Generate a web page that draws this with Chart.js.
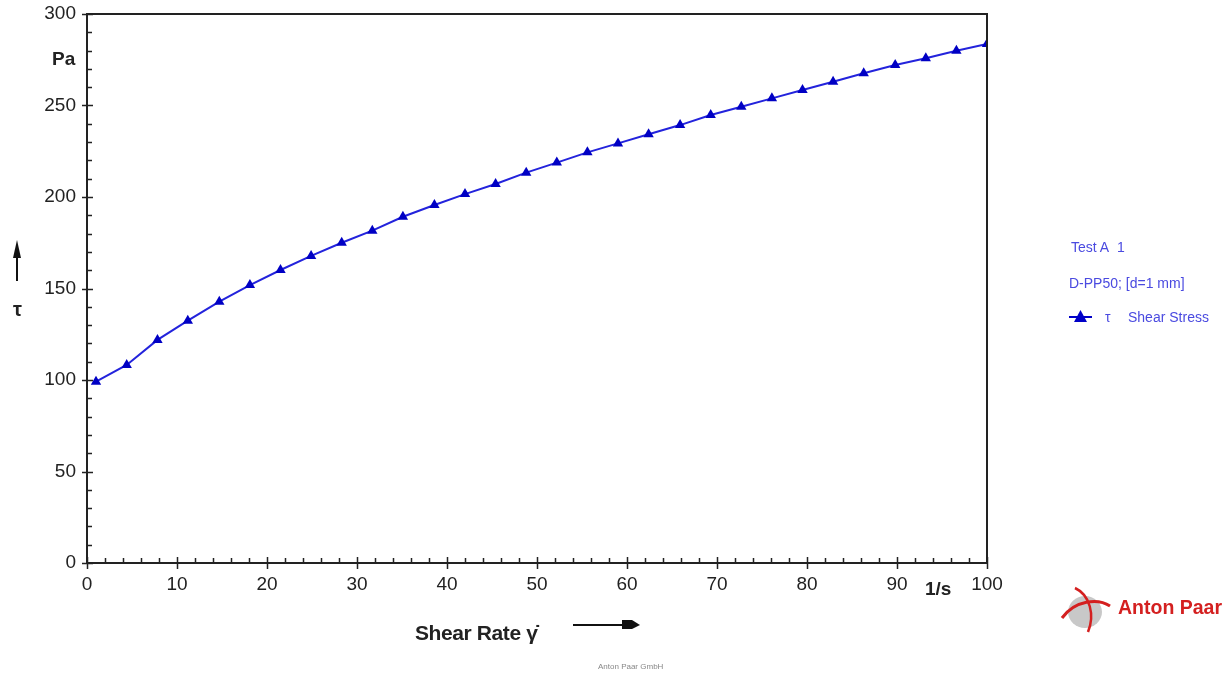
<!DOCTYPE html>
<html><head><meta charset="utf-8">
<script src="https://cdn.jsdelivr.net/npm/chart.js@4/dist/chart.umd.min.js"></script>
<style>
html,body{margin:0;padding:0;background:#fff;}
#wrap{position:relative;width:1229px;height:674px;overflow:hidden;font-family:"Liberation Sans",Arial,sans-serif;}
canvas{position:absolute;left:0;top:0;}
.t{position:absolute;white-space:nowrap;}
</style></head>
<body><div id="wrap">
<canvas id="c" width="1229" height="674"></canvas>
<div class="t" style="left:52px;top:48px;font-size:19px;font-weight:bold;color:#222;">Pa</div>
<div class="t" style="left:925px;top:578px;font-size:19px;font-weight:bold;color:#222;">1/s</div>
<div class="t" style="left:13px;top:298px;font-size:20px;font-weight:bold;color:#222;">τ</div>
<div class="t" style="left:415px;top:621px;font-size:21px;font-weight:bold;color:#222;letter-spacing:-0.4px;">Shear Rate γ̇</div>
<div class="t" style="left:598px;top:662px;font-size:8px;color:#888;">Anton Paar GmbH</div>
<div class="t" style="left:1071px;top:239px;font-size:14px;color:#4a4ae0;">Test A&nbsp; 1</div>
<div class="t" style="left:1069px;top:275px;font-size:14px;color:#4a4ae0;">D-PP50; [d=1 mm]</div>
<div class="t" style="left:1105px;top:309px;font-size:14px;color:#4a4ae0;">τ</div>
<div class="t" style="left:1128px;top:309px;font-size:14px;color:#4a4ae0;">Shear Stress</div>
<div class="t" style="left:1118px;top:596px;font-size:19.5px;font-weight:bold;color:#d42020;">Anton Paar</div>
<svg class="t" style="left:0;top:0;" width="1229" height="674">
  <line x1="17" y1="281" x2="17" y2="252" stroke="#111" stroke-width="2"/>
  <path d="M13,258 L21,258 L19,249 L17,240 L15,249 Z" fill="#111"/>
  <line x1="573" y1="625" x2="625" y2="625" stroke="#111" stroke-width="2"/>
  <path d="M622,620 L632,620 L640,625 L632,629 L622,629 Z" fill="#111"/>
  <line x1="1069" y1="317" x2="1092" y2="317" stroke="#0000c8" stroke-width="2"/>
  <path d="M1074,322 L1087,322 L1080.5,310 Z" fill="#0000c8"/>
  <ellipse cx="1085" cy="612" rx="17" ry="16" fill="#c8c8c8"/>
  <path d="M1062,618 C1075,600 1098,598 1110,606" fill="none" stroke="#d42020" stroke-width="3"/>
  <path d="M1075,588 C1090,595 1095,615 1088,632" fill="none" stroke="#d42020" stroke-width="2.5"/>
</svg>
</div>
<script>
const shearRate = [1, 4.41, 7.83, 11.2, 14.7, 18.1, 21.5, 24.9, 28.3, 31.7, 35.1, 38.6, 42.0, 45.4, 48.8, 52.2, 55.6, 59.0, 62.4, 65.9, 69.3, 72.7, 76.1, 79.5, 82.9, 86.3, 89.8, 93.2, 96.6, 100];
const shearStress = [99.1, 108.2, 121.9, 132.4, 142.8, 151.9, 160.1, 167.8, 175.0, 181.6, 189.2, 195.6, 201.6, 207.1, 213.3, 218.8, 224.4, 229.3, 234.3, 239.3, 244.8, 249.3, 253.9, 258.5, 263.0, 267.6, 272.1, 275.8, 279.9, 283.6];
const xTicks = [0,10,20,30,40,50,60,70,80,90,100];
const yTicks = [0,50,100,150,200,250,300];

const framePlugin = {
  id:'frame',
  afterDraw(chart){
    const ctx = chart.ctx, a = chart.chartArea, xs = chart.scales.x, ys = chart.scales.y;
    ctx.save();
    ctx.strokeStyle = '#222'; ctx.lineWidth = 2;
    ctx.strokeRect(a.left, a.top, a.right - a.left, a.bottom - a.top);
    ctx.lineWidth = 1.5;
    ctx.beginPath();
    for (let v = 0; v <= 300; v += 10) {
      const y = Math.round(ys.getPixelForValue(v)) + 0.5;
      if (v % 50 === 0) { ctx.moveTo(a.left - 5, y); ctx.lineTo(a.left + 6, y); }
      else { ctx.moveTo(a.left, y); ctx.lineTo(a.left + 5, y); }
    }
    for (let v = 0; v <= 100; v += 2) {
      const x = Math.round(xs.getPixelForValue(v)) + 0.5;
      if (v % 10 === 0) { ctx.moveTo(x, a.bottom + 6); ctx.lineTo(x, a.bottom - 6); }
      else { ctx.moveTo(x, a.bottom); ctx.lineTo(x, a.bottom - 5); }
    }
    ctx.stroke();
    ctx.restore();
  }
};

new Chart(document.getElementById('c'), {
  type: 'scatter',
  data: { datasets: [{
    label: 'τ Shear Stress',
    data: shearRate.map((x,i)=>({x, y: shearStress[i]})),
    showLine: true,
    borderColor: '#2323dc',
    borderWidth: 2,
    pointStyle: 'triangle',
    pointRadius: 6,
    pointBackgroundColor: '#0000c4',
    pointBorderColor: '#0000c4',
    pointBorderWidth: 0
  }]},
  options: {
    responsive: false,
    animation: false,
    layout: { padding: { left: 0, top: 14, right: 242, bottom: 71 } },
    plugins: { legend: { display: false }, tooltip: { enabled: false } },
    scales: {
      x: {
        type: 'linear', min: 0, max: 100,
        afterBuildTicks(s){ s.ticks = xTicks.map(v=>({value:v})); },
        afterFit(s){ s.height = 40; s.paddingLeft = 0; s.paddingRight = 0; },
        grid: { display: false, drawTicks: false },
        border: { display: false },
        ticks: { color: '#222', font: { family: 'Liberation Sans', size: 19 }, padding: 10, maxRotation: 0 }
      },
      y: {
        type: 'linear', min: 0, max: 300,
        afterBuildTicks(s){ s.ticks = yTicks.map(v=>({value:v})); },
        afterFit(s){ s.width = 87; s.paddingTop = 0; s.paddingBottom = 0; },
        grid: { display: false, drawTicks: false },
        border: { display: false },
        ticks: { color: '#222', font: { family: 'Liberation Sans', size: 19 }, padding: 11 }
      }
    }
  },
  plugins: [framePlugin]
});
</script>
</body></html>
